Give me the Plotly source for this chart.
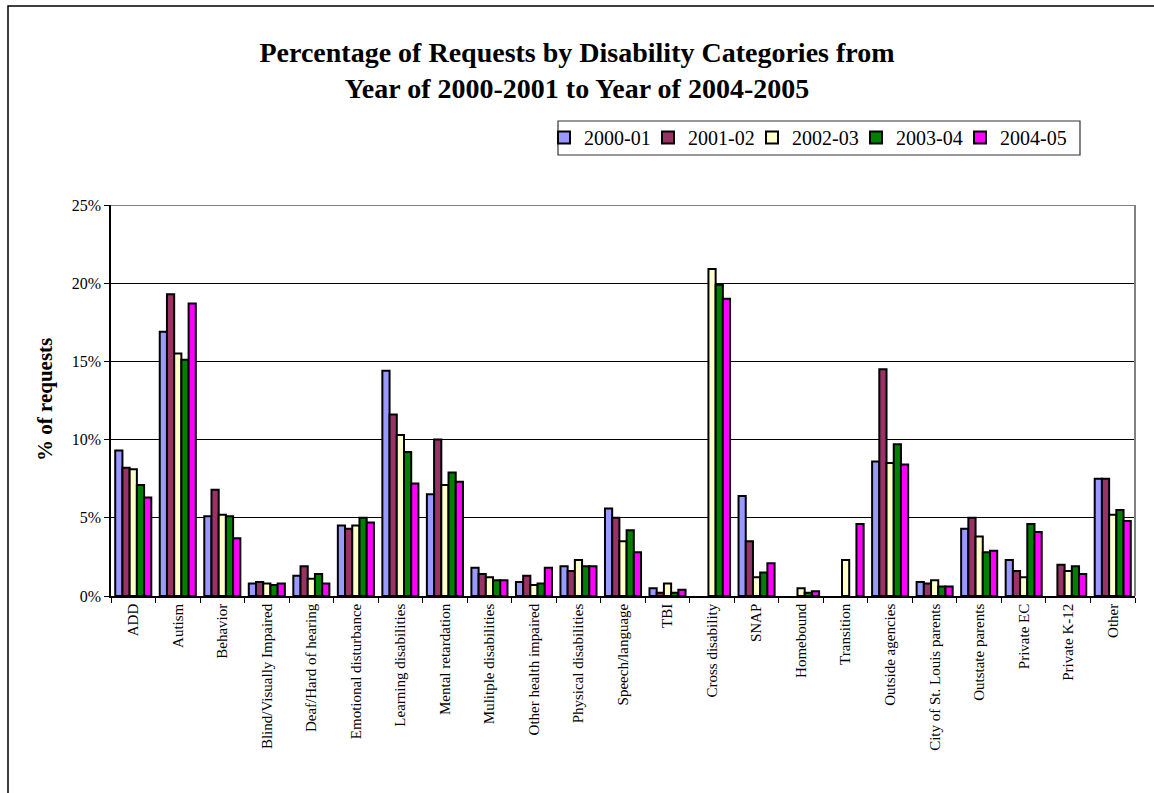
import plotly.graph_objects as go

# Request categories shown along the x axis
categories = [
    "ADD", "Autism", "Behavior", "Blind/Visually Impaired", "Deaf/Hard of hearing",
    "Emotional disturbance", "Learning disabilities", "Mental retardation",
    "Mulitple disabilities", "Other health impaired", "Physical disabilities",
    "Speech/language", "TBI", "Cross disability", "SNAP", "Homebound", "Transition",
    "Outside agencies", "City of St. Louis parents", "Outstate parents",
    "Private EC", "Private K-12", "Other",
]

# Percentage of requests per school year (None = no requests recorded)
pct_2000_01 = [9.3, 16.9, 5.1, 0.8, 1.3, 4.5, 14.4, 6.5, 1.8, 0.9, 1.9, 5.6, 0.5,
               None, 6.4, None, None, 8.6, 0.9, 4.3, 2.3, None, 7.5]
pct_2001_02 = [8.2, 19.3, 6.8, 0.9, 1.9, 4.3, 11.6, 10.0, 1.4, 1.3, 1.6, 5.0, 0.2,
               None, 3.5, None, None, 14.5, 0.8, 5.0, 1.6, 2.0, 7.5]
pct_2002_03 = [8.1, 15.5, 5.2, 0.8, 1.1, 4.5, 10.3, 7.1, 1.2, 0.7, 2.3, 3.5, 0.8,
               20.9, 1.2, 0.5, 2.3, 8.5, 1.0, 3.8, 1.2, 1.6, 5.2]
pct_2003_04 = [7.1, 15.1, 5.1, 0.7, 1.4, 5.0, 9.2, 7.9, 1.0, 0.8, 1.9, 4.2, 0.2,
               19.9, 1.5, 0.2, None, 9.7, 0.6, 2.8, 4.6, 1.9, 5.5]
pct_2004_05 = [6.3, 18.7, 3.7, 0.8, 0.8, 4.7, 7.2, 7.3, 1.0, 1.8, 1.9, 2.8, 0.4,
               19.0, 2.1, 0.3, 4.6, 8.4, 0.6, 2.9, 4.1, 1.4, 4.8]

series_names = ["2000-01", "2001-02", "2002-03", "2003-04", "2004-05"]
series_values = [pct_2000_01, pct_2001_02, pct_2002_03, pct_2003_04, pct_2004_05]
series_colors = ["#9999FF", "#993366", "#FFFFCC", "#008000", "#FF00FF"]

y_ticks = [0, 5, 10, 15, 20, 25]

# Canvas and plot-area geometry (pixels)
W, H = 1154, 793
PL, PR, PT, PB = 111, 1135, 205, 596
PW, PH = PR - PL, PB - PT

# Legend geometry (pixels)
LEG_LEFT, LEG_RIGHT, LEG_TOP, LEG_BOTTOM = 558, 1080, 121, 155
ITEMS_X = 544       # left edge of the first entry
ENTRY_STEP = 104    # distance between entries
ITEMS_TOP = 118


def px_x(x):
    return (x - PL) / PW


def px_y(y):
    return (PB - y) / PH


SERIF = "Liberation Serif"

legend_common = dict(
    orientation="h", xanchor="left", yanchor="top",
    y=px_y(ITEMS_TOP),
    bgcolor="rgba(0,0,0,0)", borderwidth=0,
    font=dict(family=SERIF, size=20, color="black"),
    itemwidth=30, tracegroupgap=0,
)

fig = go.Figure()
legend_layout = {}
for i, (name, vals, col) in enumerate(zip(series_names, series_values, series_colors)):
    key = "legend" if i == 0 else f"legend{i + 1}"
    fig.add_trace(go.Bar(
        x=categories, y=vals, name=name,
        marker=dict(color=col, line=dict(color="black", width=2)),
        legend=key,
    ))
    legend_layout[key] = dict(x=px_x(ITEMS_X + i * ENTRY_STEP), **legend_common)

fig.update_layout(
    width=W, height=H, autosize=False,
    margin=dict(l=PL, r=W - PR, t=PT, b=H - PB, pad=0),
    paper_bgcolor="white", plot_bgcolor="white",
    barmode="group", bargap=0.19, bargroupgap=0,
    font=dict(family=SERIF, color="black"),
    title=dict(
        text="Percentage of Requests by Disability Categories from<br>"
             "Year of 2000-2001 to Year of 2004-2005",
        x=0.5, xref="container", xanchor="center",
        y=1 - 62 / H, yref="container", yanchor="middle",
        font=dict(family=SERIF, size=28, color="black", weight="bold"),
    ),
    showlegend=True,
    xaxis=dict(
        type="category",
        tickangle=-90,
        tickfont=dict(family=SERIF, size=15, color="black"),
        showline=True, linecolor="black", linewidth=1.5,
        ticks="outside", tickson="boundaries", ticklen=5,
        tickcolor="black", tickwidth=1,
        showgrid=False, fixedrange=True,
    ),
    yaxis=dict(
        range=[0, 25],
        tickvals=y_ticks, ticktext=[f"{v}%" for v in y_ticks],
        tickfont=dict(family=SERIF, size=16, color="black"),
        showline=True, linecolor="black", linewidth=1.5,
        ticks="outside", ticklen=5, tickcolor="black", tickwidth=1,
        showgrid=True, gridcolor="black", gridwidth=1,
        zeroline=False, fixedrange=True,
    ),
    **legend_layout,
)

# Y axis title
fig.add_annotation(
    text="% of requests", textangle=-90,
    xref="paper", yref="paper", x=px_x(45), y=px_y(400),
    xanchor="center", yanchor="middle", showarrow=False,
    font=dict(family=SERIF, size=21, color="black", weight="bold"),
)

# Legend box
fig.add_shape(type="rect", xref="paper", yref="paper",
              x0=px_x(LEG_LEFT), x1=px_x(LEG_RIGHT),
              y0=px_y(LEG_BOTTOM), y1=px_y(LEG_TOP),
              line=dict(color="#333333", width=1.2), fillcolor="rgba(0,0,0,0)",
              layer="above")

# Grey plot-area border on the top and right sides
fig.add_shape(type="line", xref="paper", yref="y", x0=0, x1=1, y0=25, y1=25,
              line=dict(color="#808080", width=2), layer="above")
fig.add_shape(type="line", xref="paper", yref="y", x0=1, x1=1, y0=0, y1=25,
              line=dict(color="#808080", width=2), layer="above")

# Outer chart frame
fig.add_shape(type="rect", xref="paper", yref="paper",
              x0=px_x(8), x1=px_x(1160), y0=px_y(800), y1=px_y(6),
              line=dict(color="black", width=1.5), fillcolor="rgba(0,0,0,0)",
              layer="below")

fig.write_html("out.html")
